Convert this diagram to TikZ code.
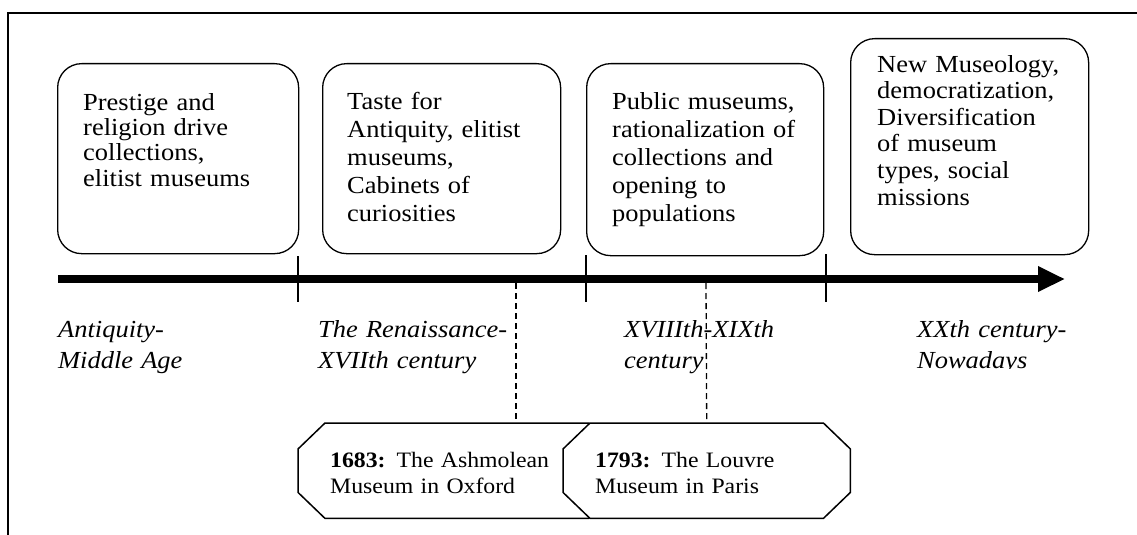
\documentclass[tikz,border=0pt]{standalone}
\usepackage{fontspec}
\setmainfont{Liberation Serif}[FakeStretch=1.08]
\usetikzlibrary{arrows.meta,backgrounds}
% outline of an event plate: a rectangle node with cut corners
\newcommand\eventoutline[1]{%
  \draw[plate] ([xshift=27pt]#1.north west) -- ([xshift=-27pt]#1.north east)
    -- ([yshift=-26pt]#1.north east) -- ([yshift=26pt]#1.south east)
    -- ([xshift=-27pt]#1.south east) -- ([xshift=27pt]#1.south west)
    -- ([yshift=26pt]#1.south west) -- ([yshift=-26pt]#1.north west) -- cycle;}
\begin{document}
\begin{tikzpicture}[x=1pt,y=-1pt,
  era/.style={draw, line width=1.3pt, rounded corners=24pt, anchor=north west, inner sep=0pt},
  boxtext/.style={anchor=base west, inner sep=0pt, text width=240pt, align=left,
    font=\fontsize{24.5}{25.5}\selectfont},
  period/.style={anchor=base west, inner sep=0pt, text width=240pt, align=left,
    font=\fontsize{24.5}{31}\selectfont\itshape},
  evtext/.style={anchor=base west, inner sep=0pt, text width=300pt, align=left,
    font=\fontsize{22}{26}\selectfont},
  evslot/.style={inner sep=0pt, anchor=north west},
  plate/.style={draw, fill=white, line width=1.5pt},
  tickmark/.style={line width=1.3pt},
  guide/.style={line width=1.3pt, dash pattern=on 6pt off 4pt},
]
\useasboundingbox (0,0) rectangle (1137,535);
% frame
\draw[line width=1.5pt] (8,535) -- (8,13) -- (1137,13);

% era boxes
\node[era, minimum width=241pt, minimum height=190pt] (e1) at (57,63) {};
\node[era, minimum width=238pt, minimum height=190pt] (e2) at (322,63) {};
\node[era, minimum width=237pt, minimum height=192pt] (e3) at (586,63) {};
\node[era, minimum width=238pt, minimum height=216pt] (e4) at (850,38) {};

\node[boxtext] (t1) at (83,110) {Prestige and\\religion drive\\collections,\\elitist museums};
\node[boxtext, font=\fontsize{24.5}{28}\selectfont] (t2) at (347,109) {Taste for\\Antiquity, elitist\\museums,\\Cabinets of\\curiosities};
\node[boxtext, font=\fontsize{24.5}{28}\selectfont] (t3) at (612,109) {Public museums,\\rationalization of\\collections and\\opening to\\populations};
\node[boxtext, font=\fontsize{24.5}{26.6}\selectfont] (t4) at (877,72) {New Museology,\\democratization,\\Diversification\\of museum\\types, social\\missions};

% time axis
\coordinate (axisstart) at (58,279);
\coordinate (axisend) at (1065,279);
\draw[line width=8pt, -{Triangle[length=27pt, width=24pt]}] (axisstart) -- (axisend);

% period boundaries
\coordinate (b1) at (298,256);
\coordinate (b2) at (586,255);
\coordinate (b3) at (826,254);
\draw[tickmark] (b1) -- ++(0,46);
\draw[tickmark] (b2) -- ++(0,47);
\draw[tickmark] (b3) -- ++(0,48);

% period labels
\node[period] (p1) at (58,337) {Antiquity-\\Middle Age};
\node[period] (p2) at (318,337) {The Renaissance-\\XVIIth century};
\node[period] (p3) at (624,337) {XVIIIth-XIXth\\century};
\begin{scope}
  \clip (880,300) rectangle (1137,368.5);
  \node[period] (p4) at (917,337) {XXth century-\\Nowadays};
\end{scope}

% event plates
\node[evslot, minimum width=317pt, minimum height=95pt] (o1) at (298,423) {};
\node[evslot, minimum width=287pt, minimum height=95pt] (o2) at (563,423) {};
\begin{scope}[on background layer]
  \eventoutline{o1}
  \eventoutline{o2}
\end{scope}
\node[evtext] (x1) at (330,467) {\textbf{1683:} The Ashmolean\\Museum in Oxford};
\node[evtext] (x2) at (595,467) {\textbf{1793:} The Louvre\\Museum in Paris};

% links from the axis to the events
\coordinate (d1) at (516,283);
\coordinate (d2) at (706,283);
\draw[guide] (d1) -- (d1 |- o1.north);
\draw[guide] (d2) -- (o2.north);
\end{tikzpicture}
\end{document}
